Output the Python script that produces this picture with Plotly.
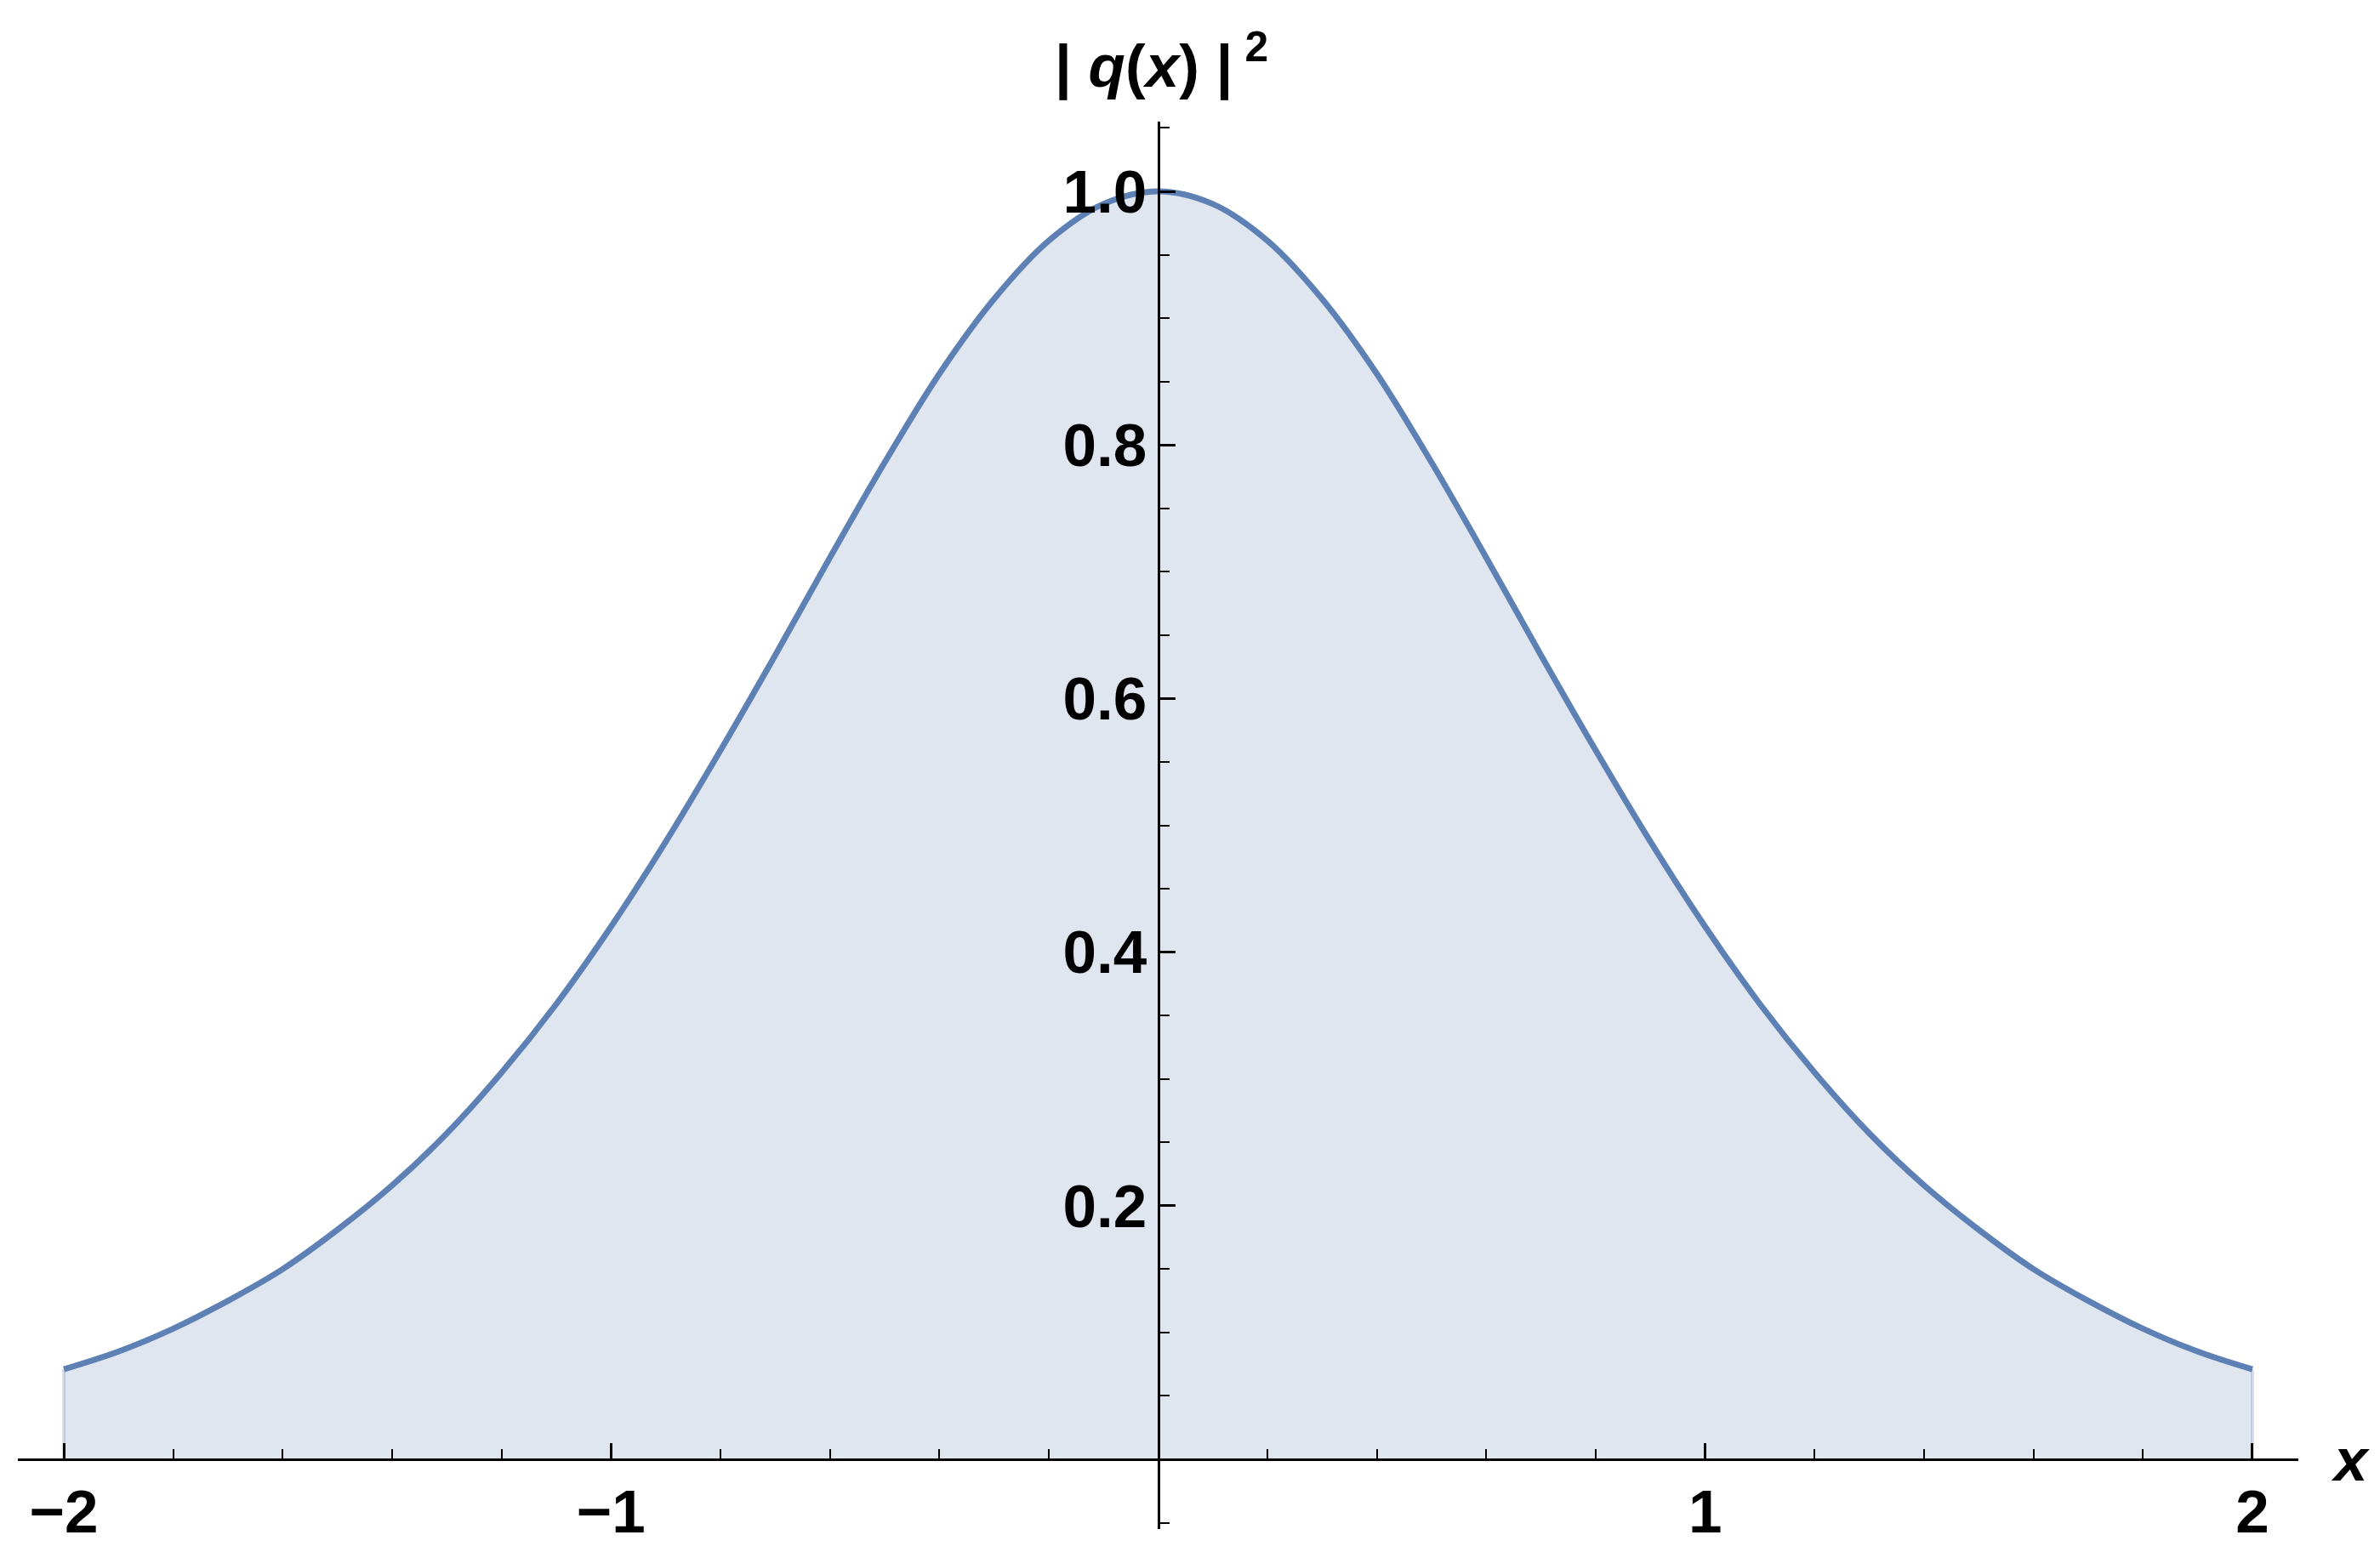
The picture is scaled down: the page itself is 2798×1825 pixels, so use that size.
import plotly.graph_objects as go

# values (|q(x)|^2 vs x)
x_vals = [-2.0, -1.9, -1.8, -1.7, -1.6, -1.5, -1.4, -1.3, -1.2, -1.1, -1.0,
          -0.9, -0.8, -0.7, -0.6, -0.5, -0.4, -0.3, -0.2, -0.1, 0.0,
          0.1, 0.2, 0.3, 0.4, 0.5, 0.6, 0.7, 0.8, 0.9, 1.0,
          1.1, 1.2, 1.3, 1.4, 1.5, 1.6, 1.7, 1.8, 1.9, 2.0]
y_vals = [0.071, 0.085, 0.103, 0.125, 0.150, 0.181, 0.216, 0.257, 0.305, 0.359, 0.420,
          0.487, 0.559, 0.634, 0.711, 0.786, 0.856, 0.915, 0.961, 0.990, 1.000,
          0.990, 0.961, 0.915, 0.856, 0.786, 0.711, 0.634, 0.559, 0.487, 0.420,
          0.359, 0.305, 0.257, 0.216, 0.181, 0.150, 0.125, 0.103, 0.085, 0.071]

x_ticks = [-2, -1, 1, 2]
x_tick_text = ["\u22122", "\u22121", "1", "2"]
y_ticks = [0.2, 0.4, 0.6, 0.8, 1.0]
y_tick_text = ["0.2", "0.4", "0.6", "0.8", "1.0"]

LINE = "#5E81B5"
FILL = "rgba(94,129,181,0.2)"
FONT = "Liberation Sans"
FS = 71

fig = go.Figure()
fig.add_trace(go.Scatter(
    x=x_vals, y=y_vals, mode="lines",
    line=dict(color=LINE, width=7, shape="spline"),
    fill="tozeroy", fillcolor=FILL,
    hoverinfo="skip", showlegend=False,
))
# faint fill edges at both ends of the curve
for i in (0, -1):
    fig.add_trace(go.Scatter(
        x=[x_vals[i], x_vals[i]], y=[0, y_vals[i]], mode="lines",
        line=dict(color="rgba(94,129,181,0.25)", width=4),
        hoverinfo="skip", showlegend=False,
    ))

W, H = 2798, 1825
ml, mr, mt, mb = 21, 96, 143, 27
xr = [-2.084, 2.084]
yr = [-0.055, 1.055]

x_axis_pos = (0 - yr[0]) / (yr[1] - yr[0])
y_axis_pos = (0 - xr[0]) / (xr[1] - xr[0])

common = dict(
    showgrid=False, zeroline=False, automargin=False,
    showline=True, linecolor="black", linewidth=3,
    tickmode="array",
    ticks="inside", ticklen=18, tickwidth=3, tickcolor="black",
    tickfont=dict(family=FONT, size=FS, color="black", weight="bold"),
)

fig.update_layout(
    width=W, height=H,
    margin=dict(l=ml, r=mr, t=mt, b=mb, pad=0, autoexpand=False),
    plot_bgcolor="white", paper_bgcolor="white",
    showlegend=False,
    xaxis=dict(
        range=xr, anchor="free", position=x_axis_pos,
        tickvals=x_ticks, ticktext=x_tick_text,
        minor=dict(tickmode="linear", tick0=0, dtick=0.2, ticks="inside",
                   ticklen=11, tickwidth=2, tickcolor="black"),
        ticklabelstandoff=-1,
        **common,
    ),
    yaxis=dict(
        range=yr, anchor="free", position=y_axis_pos,
        tickvals=y_ticks, ticktext=y_tick_text,
        minor=dict(tickmode="linear", tick0=0, dtick=0.05, ticks="inside",
                   ticklen=11, tickwidth=2, tickcolor="black"),
        ticklabelstandoff=-2,
        **common,
    ),
)

pw = W - ml - mr
ph = H - mt - mb
def px_to_paper(px, py):
    return (px - ml) / pw, (H - mb - py) / ph

tx, ty = px_to_paper(1366, 72)
fig.add_annotation(
    x=tx, y=ty, xref="paper", yref="paper", showarrow=False,
    text="<b>| <i>q</i>(<i>x</i>) |\u2009<sup>2</sup></b>",
    font=dict(family=FONT, size=FS, color="black"),
    xanchor="center", yanchor="middle",
)
lx, ly = px_to_paper(2763, 1716)
fig.add_annotation(
    x=lx, y=ly, xref="paper", yref="paper", showarrow=False,
    text="<b><i>x</i></b>",
    font=dict(family=FONT, size=FS, color="black"),
    xanchor="center", yanchor="middle",
)

fig.write_html(
    "out.html",
    config={"displayModeBar": False},
    post_script="document.body.style.margin='0';document.body.style.overflow='hidden';",
)
